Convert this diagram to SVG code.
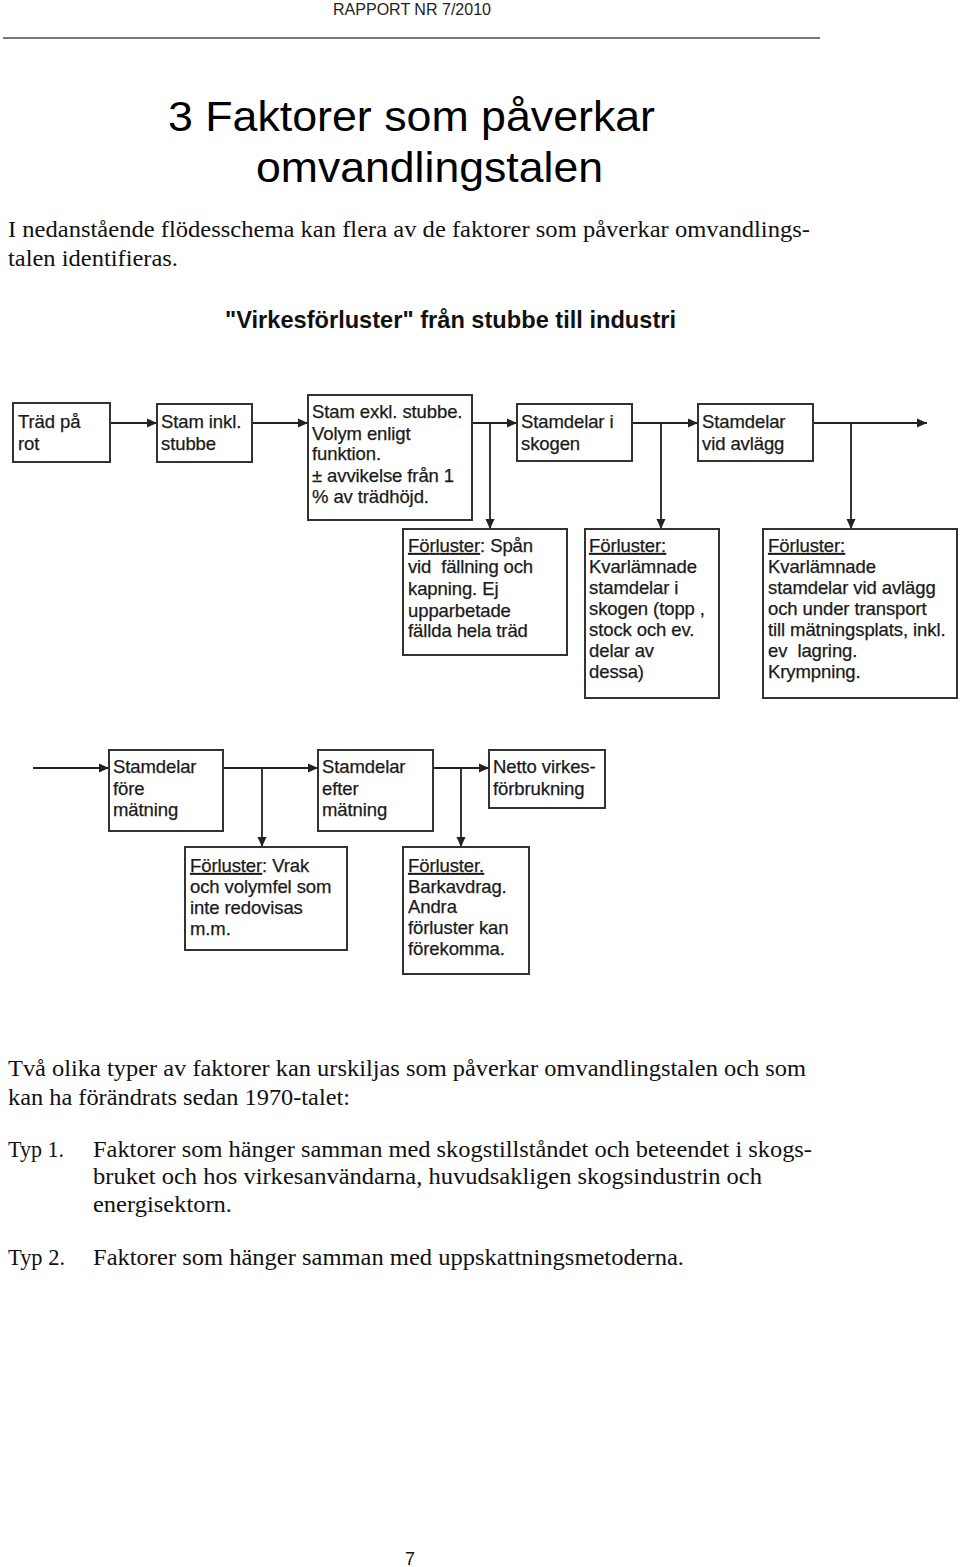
<svg xmlns="http://www.w3.org/2000/svg" width="960" height="1567" viewBox="0 0 960 1567">
<style>
.page{fill:#fff}
.hdr{font-family:"Liberation Sans",Arial,sans-serif;font-size:16px;fill:#222}
.title{font-family:"Liberation Sans",Arial,sans-serif;font-size:43px;fill:#000}
.body{font-family:"Liberation Serif","Times New Roman",serif;font-size:23px;fill:#111}
.head{font-family:"Liberation Sans",Arial,sans-serif;font-size:24px;font-weight:bold;fill:#111}
.box{fill:#fff;stroke:#333;stroke-width:2}
.lbl{font-family:"Liberation Sans",Arial,sans-serif;font-size:18.5px;fill:#1a1a1a;stroke:#1a1a1a;stroke-width:0.25;letter-spacing:-0.1px}
.u{text-decoration:underline}
.con{fill:none;stroke:#222;stroke-width:1.8}
.pg{font-family:"Liberation Sans",Arial,sans-serif;font-size:18px;fill:#111}
</style>
<defs>
<marker id="arr" viewBox="0 0 10 10" refX="10" refY="5" markerWidth="10" markerHeight="10" markerUnits="userSpaceOnUse" orient="auto">
<path d="M0,0.5 L10,5 L0,9.5 z" fill="#222"/>
</marker>
</defs>
<rect class="page" x="0" y="0" width="960" height="1567"/>

<g id="header">
<text class="hdr" x="333" y="15" textLength="158" lengthAdjust="spacingAndGlyphs">RAPPORT NR 7/2010</text>
<line x1="3" y1="38" x2="820" y2="38" stroke="#777" stroke-width="2"/>
</g>

<g id="title">
<text class="title" x="168" y="131" textLength="487" lengthAdjust="spacingAndGlyphs">3 Faktorer som påverkar</text>
<text class="title" x="256" y="182" textLength="347" lengthAdjust="spacingAndGlyphs">omvandlingstalen</text>
</g>

<g id="intro">
<text class="body" x="8" y="237" textLength="802" lengthAdjust="spacingAndGlyphs">I nedanstående flödesschema kan flera av de faktorer som påverkar omvandlings-</text>
<text class="body" x="8" y="266" textLength="170" lengthAdjust="spacingAndGlyphs">talen identifieras.</text>
</g>

<g id="chart-title">
<text class="head" x="225" y="328" textLength="451" lengthAdjust="spacingAndGlyphs">"Virkesförluster" från stubbe till industri</text>
</g>

<g id="connectors">
<line class="con" x1="110" y1="423" x2="157" y2="423" marker-end="url(#arr)"/>
<line class="con" x1="252" y1="423" x2="308" y2="423" marker-end="url(#arr)"/>
<line class="con" x1="472" y1="423" x2="517" y2="423" marker-end="url(#arr)"/>
<line class="con" x1="490" y1="423" x2="490" y2="529" marker-end="url(#arr)"/>
<line class="con" x1="632" y1="423" x2="698" y2="423" marker-end="url(#arr)"/>
<line class="con" x1="661" y1="423" x2="661" y2="529" marker-end="url(#arr)"/>
<line class="con" x1="813" y1="423" x2="927" y2="423" marker-end="url(#arr)"/>
<line class="con" x1="851" y1="423" x2="851" y2="529" marker-end="url(#arr)"/>
<line class="con" x1="33" y1="768" x2="109" y2="768" marker-end="url(#arr)"/>
<line class="con" x1="223" y1="768" x2="318" y2="768" marker-end="url(#arr)"/>
<line class="con" x1="262" y1="768" x2="262" y2="847" marker-end="url(#arr)"/>
<line class="con" x1="433" y1="768" x2="489" y2="768" marker-end="url(#arr)"/>
<line class="con" x1="461" y1="768" x2="461" y2="847" marker-end="url(#arr)"/>
</g>

<g id="n-trad">
<rect class="box" x="13" y="403" width="97" height="59"/>
<text class="lbl" x="18" y="428">Träd på</text>
<text class="lbl" x="18" y="450">rot</text>
</g>
<g id="n-stam-inkl">
<rect class="box" x="157" y="404" width="95" height="58"/>
<text class="lbl" x="161" y="428">Stam inkl.</text>
<text class="lbl" x="161" y="450">stubbe</text>
</g>
<g id="n-stam-exkl">
<rect class="box" x="308" y="395" width="164" height="125"/>
<text class="lbl" x="312" y="418">Stam exkl. stubbe.</text>
<text class="lbl" x="312" y="440">Volym enligt</text>
<text class="lbl" x="312" y="460">funktion.</text>
<text class="lbl" x="312" y="482">± avvikelse från 1</text>
<text class="lbl" x="312" y="503">% av trädhöjd.</text>
</g>
<g id="n-skogen">
<rect class="box" x="517" y="404" width="115" height="57"/>
<text class="lbl" x="521" y="428">Stamdelar i</text>
<text class="lbl" x="521" y="450">skogen</text>
</g>
<g id="n-avlagg">
<rect class="box" x="698" y="404" width="115" height="57"/>
<text class="lbl" x="702" y="428">Stamdelar</text>
<text class="lbl" x="702" y="450">vid avlägg</text>
</g>

<g id="l-span">
<rect class="box" x="403" y="529" width="164" height="126"/>
<text class="lbl" x="408" y="552" textLength="125"><tspan class="u">Förluster</tspan>: Spån</text>
<text class="lbl" x="408" y="573" textLength="125" xml:space="preserve">vid  fällning och</text>
<text class="lbl" x="408" y="595">kapning. Ej</text>
<text class="lbl" x="408" y="617">upparbetade</text>
<text class="lbl" x="408" y="637">fällda hela träd</text>
</g>
<g id="l-kvar-skog">
<rect class="box" x="585" y="529" width="134" height="169"/>
<text class="lbl" x="589" y="552"><tspan class="u">Förluster:</tspan></text>
<text class="lbl" x="589" y="573">Kvarlämnade</text>
<text class="lbl" x="589" y="594">stamdelar i</text>
<text class="lbl" x="589" y="615">skogen (topp ,</text>
<text class="lbl" x="589" y="636">stock och ev.</text>
<text class="lbl" x="589" y="657">delar av</text>
<text class="lbl" x="589" y="678">dessa)</text>
</g>
<g id="l-kvar-avlagg">
<rect class="box" x="763" y="529" width="194" height="169"/>
<text class="lbl" x="768" y="552"><tspan class="u">Förluster:</tspan></text>
<text class="lbl" x="768" y="573">Kvarlämnade</text>
<text class="lbl" x="768" y="594">stamdelar vid avlägg</text>
<text class="lbl" x="768" y="615">och under transport</text>
<text class="lbl" x="768" y="636">till mätningsplats, inkl.</text>
<text class="lbl" x="768" y="657" xml:space="preserve">ev  lagring.</text>
<text class="lbl" x="768" y="678">Krympning.</text>
</g>

<g id="n-fore">
<rect class="box" x="109" y="750" width="114" height="81"/>
<text class="lbl" x="113" y="773">Stamdelar</text>
<text class="lbl" x="113" y="795">före</text>
<text class="lbl" x="113" y="816">mätning</text>
</g>
<g id="n-efter">
<rect class="box" x="318" y="750" width="115" height="81"/>
<text class="lbl" x="322" y="773">Stamdelar</text>
<text class="lbl" x="322" y="795">efter</text>
<text class="lbl" x="322" y="816">mätning</text>
</g>
<g id="n-netto">
<rect class="box" x="489" y="750" width="116" height="58"/>
<text class="lbl" x="493" y="773">Netto virkes-</text>
<text class="lbl" x="493" y="795">förbrukning</text>
</g>
<g id="l-vrak">
<rect class="box" x="185" y="847" width="162" height="103"/>
<text class="lbl" x="190" y="872"><tspan class="u">Förluster</tspan>: Vrak</text>
<text class="lbl" x="190" y="893">och volymfel som</text>
<text class="lbl" x="190" y="914">inte redovisas</text>
<text class="lbl" x="190" y="935">m.m.</text>
</g>
<g id="l-bark">
<rect class="box" x="403" y="847" width="126" height="127"/>
<text class="lbl" x="408" y="872"><tspan class="u">Förluster.</tspan></text>
<text class="lbl" x="408" y="893">Barkavdrag.</text>
<text class="lbl" x="408" y="913">Andra</text>
<text class="lbl" x="408" y="934">förluster kan</text>
<text class="lbl" x="408" y="955">förekomma.</text>
</g>

<g id="body-text">
<text class="body" x="8" y="1076" textLength="798" lengthAdjust="spacingAndGlyphs">Två olika typer av faktorer kan urskiljas som påverkar omvandlingstalen och som</text>
<text class="body" x="8" y="1105" textLength="342" lengthAdjust="spacingAndGlyphs">kan ha förändrats sedan 1970-talet:</text>
<text class="body" x="8" y="1157" textLength="56" lengthAdjust="spacingAndGlyphs">Typ 1.</text>
<text class="body" x="93" y="1157" textLength="719" lengthAdjust="spacingAndGlyphs">Faktorer som hänger samman med skogstillståndet och beteendet i skogs-</text>
<text class="body" x="93" y="1184" textLength="669" lengthAdjust="spacingAndGlyphs">bruket och hos virkesanvändarna, huvudsakligen skogsindustrin och</text>
<text class="body" x="93" y="1212" textLength="139" lengthAdjust="spacingAndGlyphs">energisektorn.</text>
<text class="body" x="8" y="1265" textLength="57" lengthAdjust="spacingAndGlyphs">Typ 2.</text>
<text class="body" x="93" y="1265" textLength="591" lengthAdjust="spacingAndGlyphs">Faktorer som hänger samman med uppskattningsmetoderna.</text>
</g>

<g id="footer">
<text class="pg" x="405" y="1565">7</text>
</g>
</svg>
